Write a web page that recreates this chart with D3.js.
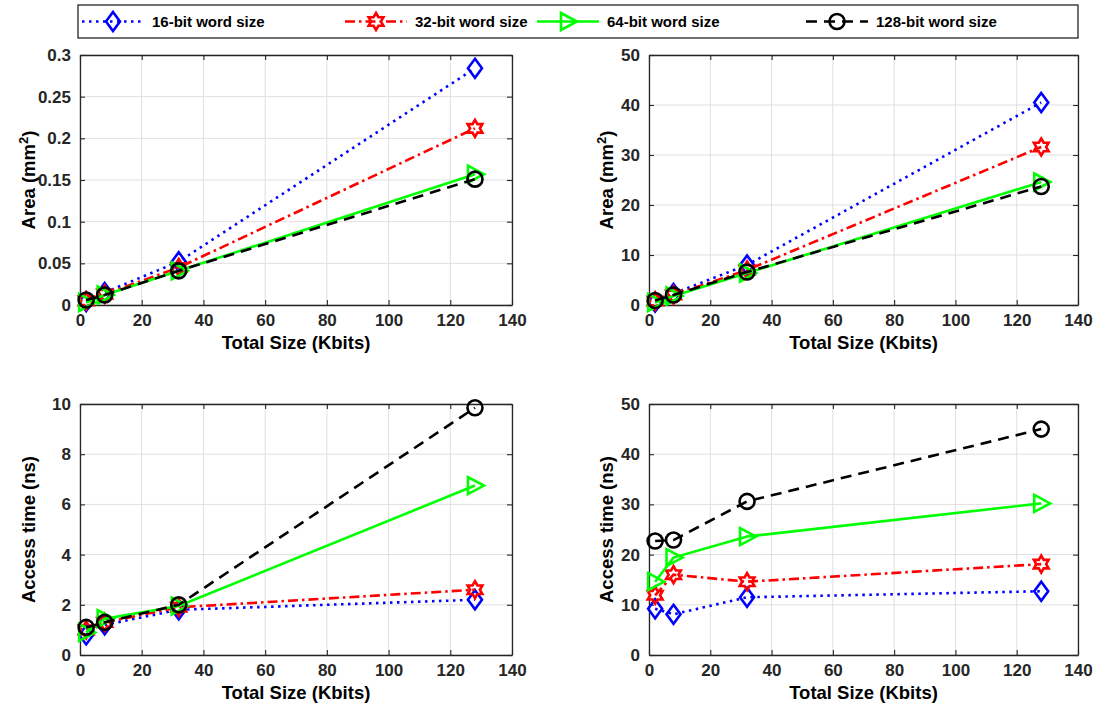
<!DOCTYPE html>
<html><head><meta charset="utf-8">
<script src="https://cdn.jsdelivr.net/npm/d3@7"></script>
<style>
body{margin:0;background:#fff;}
svg{font-family:"Liberation Sans",Arial,Helvetica,sans-serif;font-weight:bold;}
</style></head>
<body><svg id="c" width="1102" height="711"></svg>
<script>
// ---- data ----
const sizes = [2, 8, 32, 128];
const seriesNames = ["16-bit word size", "32-bit word size", "64-bit word size", "128-bit word size"];
// top-left: Area (mm^2)
const areaA16 = [0.004, 0.015, 0.052, 0.284];
const areaA32 = [0.005, 0.013, 0.045, 0.212];
const areaA64 = [0.003, 0.012, 0.041, 0.157];
const areaA128 = [0.006, 0.012, 0.041, 0.151];
// top-right: Area (mm^2)
const areaB16 = [0.6, 2.3, 8.0, 40.5];
const areaB32 = [0.8, 2.0, 7.0, 31.6];
const areaB64 = [0.5, 1.8, 6.4, 24.6];
const areaB128 = [0.9, 2.0, 6.6, 23.7];
// bottom-left: Access time (ns)
const timeA16 = [0.8, 1.2, 1.8, 2.2];
const timeA32 = [1.0, 1.3, 1.9, 2.6];
const timeA64 = [0.9, 1.45, 1.95, 6.75];
const timeA128 = [1.1, 1.3, 2.0, 9.85];
// bottom-right: Access time (ns)
const timeB16 = [9.2, 8.1, 11.5, 12.7];
const timeB32 = [11.9, 16.0, 14.6, 18.1];
const timeB64 = [14.6, 19.4, 23.6, 30.2];
const timeB128 = [22.7, 22.9, 30.6, 45.0];
const xTicks = [0, 20, 40, 60, 80, 100, 120, 140];
const yTicksAreaA = [0, 0.05, 0.1, 0.15, 0.2, 0.25, 0.3];
const yTicksAreaB = [0, 10, 20, 30, 40, 50];
const yTicksTimeA = [0, 2, 4, 6, 8, 10];
const yTicksTimeB = [0, 10, 20, 30, 40, 50];

const colors = ["#0000ff", "#ff0000", "#00ff00", "#000000"];
const dashes = ["2.5,4.5", "10,4,2.5,4", null, "11,7"];
const markers = ["diamond", "hexagram", "triangle", "circle"];
const LW = 2.6, MW = 2.6;

const svg = d3.select("#c");

function markerPath(type) {
  if (type === "diamond") return "M0,-9.5L7,0L0,9.5L-7,0Z";
  if (type === "triangle") return "M-7,-8.5L9,0L-7,8.5Z";
  if (type === "hexagram") {
    const R = 8.5, r = R / Math.sqrt(3);
    let pts = [];
    for (let i = 0; i < 12; i++) {
      const a = -Math.PI / 2 + i * Math.PI / 6;
      const rad = i % 2 === 0 ? R : r;
      pts.push([rad * Math.cos(a), rad * Math.sin(a)]);
    }
    return "M" + pts.map(p => p.join(",")).join("L") + "Z";
  }
  return null;
}
function drawMarker(g, type, color, x, y) {
  if (type === "circle") {
    g.append("circle").attr("cx", x).attr("cy", y).attr("r", 7.5)
      .attr("fill", "none").attr("stroke", color).attr("stroke-width", MW);
  } else {
    g.append("path").attr("d", markerPath(type)).attr("transform", `translate(${x},${y})`)
      .attr("fill", "none").attr("stroke", color).attr("stroke-width", MW).attr("stroke-linejoin", "miter");
  }
}

function panel(box, yDomain, yTicks, ylabel, data, yFmt, ylOff) {
  const x = d3.scaleLinear().domain([0, 140]).range([box.l, box.r]);
  const y = d3.scaleLinear().domain(yDomain).range([box.b, box.t]);
  const g = svg.append("g");
  // grid
  g.append("g").selectAll("line").data(xTicks).join("line")
    .attr("x1", d => x(d)).attr("x2", d => x(d)).attr("y1", box.t).attr("y2", box.b)
    .attr("stroke", "#dfdfdf").attr("stroke-width", 1);
  g.append("g").selectAll("line").data(yTicks).join("line")
    .attr("y1", d => y(d)).attr("y2", d => y(d)).attr("x1", box.l).attr("x2", box.r)
    .attr("stroke", "#dfdfdf").attr("stroke-width", 1);
  // axes
  const ax = g.append("g").attr("transform", `translate(0,${box.b})`)
    .call(d3.axisBottom(x).tickValues(xTicks).tickSizeInner(-5).tickSizeOuter(0).tickPadding(9));
  const ay = g.append("g").attr("transform", `translate(${box.l},0)`)
    .call(d3.axisLeft(y).tickValues(yTicks).tickSizeInner(-5).tickSizeOuter(0).tickPadding(9).tickFormat(yFmt));
  const axT = g.append("g").attr("transform", `translate(0,${box.t})`)
    .call(d3.axisTop(x).tickValues(xTicks).tickSizeInner(-5).tickSizeOuter(0).tickFormat(""));
  const ayR = g.append("g").attr("transform", `translate(${box.r},0)`)
    .call(d3.axisRight(y).tickValues(yTicks).tickSizeInner(-5).tickSizeOuter(0).tickFormat(""));
  [ax, ay, axT, ayR].forEach(a => {
    a.select(".domain").attr("stroke", "#262626").attr("stroke-width", 1.3);
    a.selectAll(".tick line").attr("stroke", "#262626").attr("stroke-width", 1.1);
    a.selectAll("text").attr("fill", "#262626").style("font-size", "17px")
      .style("font-weight", "bold").style("font-family", "Liberation Sans, Arial, sans-serif");
  });
  // labels
  g.append("text").attr("x", (box.l + box.r) / 2).attr("y", box.b + 44)
    .attr("text-anchor", "middle").style("font-size", "18.5px").attr("fill", "#000").text("Total Size (Kbits)");
  const yl = g.append("text").attr("transform", `translate(${box.l - ylOff},${(box.t + box.b) / 2}) rotate(-90)`)
    .attr("text-anchor", "middle").style("font-size", "18.5px").attr("fill", "#000");
  ylabel(yl);
  // series
  const line = d3.line().x((d, i) => x(sizes[i])).y(d => y(d));
  data.forEach((vals, k) => {
    g.append("path").datum(vals).attr("d", line).attr("fill", "none")
      .attr("stroke", colors[k]).attr("stroke-width", LW)
      .attr("stroke-dasharray", dashes[k]);
    vals.forEach((v, i) => drawMarker(g, markers[k], colors[k], x(sizes[i]), y(v)));
  });
}

const areaLabel = t => { t.append("tspan").text("Area (mm"); t.append("tspan").attr("baseline-shift", "super").style("font-size", "13px").text("2"); t.append("tspan").text(")"); };
const timeLabel = t => t.text("Access time (ns)");
const fmtArea = d => d === 0 ? "0" : String(d);

panel({l: 80, r: 512, t: 55, b: 305}, [0, 0.3], yTicksAreaA, areaLabel, [areaA16, areaA32, areaA64, areaA128], fmtArea, 45);
panel({l: 649, r: 1078, t: 55, b: 305}, [0, 50], yTicksAreaB, areaLabel, [areaB16, areaB32, areaB64, areaB128], d => d, 36);
panel({l: 80, r: 512, t: 404, b: 655}, [0, 10], yTicksTimeA, timeLabel, [timeA16, timeA32, timeA64, timeA128], d => d, 45);
panel({l: 649, r: 1078, t: 404, b: 655}, [0, 50], yTicksTimeB, timeLabel, [timeB16, timeB32, timeB64, timeB128], d => d, 36);

// legend
const lg = svg.append("g");
lg.append("rect").attr("x", 78).attr("y", 5).attr("width", 1000).attr("height", 33)
  .attr("fill", "#fff").attr("stroke", "#262626").attr("stroke-width", 1.3);
const legX = [82, 345, 537, 806];
seriesNames.forEach((name, k) => {
  const x0 = legX[k], yy = 21.5;
  lg.append("line").attr("x1", x0).attr("x2", x0 + 62).attr("y1", yy).attr("y2", yy)
    .attr("stroke", colors[k]).attr("stroke-width", LW).attr("stroke-dasharray", dashes[k]);
  drawMarker(lg, markers[k], colors[k], x0 + 31, yy);
  lg.append("text").attr("x", x0 + 70).attr("y", yy + 5.5).style("font-size", "15px").attr("fill", "#000").text(name);
});
</script></body></html>
